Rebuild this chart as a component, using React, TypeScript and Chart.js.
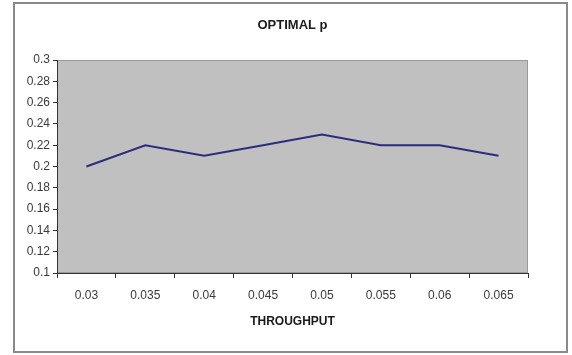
import React, { useEffect, useRef } from "react";
import { Chart, registerables } from "chart.js";

Chart.register(...registerables);

const throughput = ["0.03", "0.035", "0.04", "0.045", "0.05", "0.055", "0.06", "0.065"];
const optimalP = [0.2, 0.22, 0.21, 0.22, 0.23, 0.22, 0.22, 0.21];
const yTicks = [0.1, 0.12, 0.14, 0.16, 0.18, 0.2, 0.22, 0.24, 0.26, 0.28, 0.3];

const framePlugin = {
  id: "frame",
  beforeDraw(chart: any) {
    const { ctx, chartArea } = chart;
    ctx.save();
    ctx.fillStyle = "#ffffff";
    ctx.fillRect(0, 0, chart.width, chart.height);
    ctx.strokeStyle = "#8a8a8a";
    ctx.lineWidth = 2;
    ctx.strokeRect(14, 3, 553, 349);
    ctx.fillStyle = "#c0c0c0";
    ctx.fillRect(chartArea.left, chartArea.top, chartArea.right - chartArea.left, chartArea.bottom - chartArea.top);
    ctx.strokeStyle = "#9a9a9a";
    ctx.lineWidth = 1;
    ctx.strokeRect(chartArea.left + 0.5, chartArea.top + 0.5, chartArea.right - chartArea.left - 1, chartArea.bottom - chartArea.top - 1);
    ctx.restore();
  },
};

export default function App() {
  const ref = useRef<HTMLCanvasElement>(null);
  useEffect(() => {
    if (!ref.current) return;
    const chart = new Chart(ref.current, {
      type: "line",
      data: {
        labels: throughput,
        datasets: [
          {
            data: optimalP,
            borderColor: "#2c2c7c",
            borderWidth: 2,
            pointRadius: 0,
            tension: 0,
            fill: false,
          },
        ],
      },
      options: {
        animation: false,
        responsive: false,
        maintainAspectRatio: false,
        layout: { padding: { left: 14, right: 44, top: 0, bottom: 0 } },
        plugins: {
          legend: { display: false },
          tooltip: { enabled: false },
          title: {
            display: true,
            fullSize: false,
            text: "OPTIMAL p",
            color: "#1a1a1a",
            font: { family: "'Liberation Sans', Arial, sans-serif", size: 13, weight: "bold" },
            padding: { top: 18, bottom: 26.4 },
          },
        },
        scales: {
          x: {
            type: "category",
            offset: true,
            grid: {
              offset: true,
              drawOnChartArea: false,
              drawTicks: true,
              tickLength: 5,
              color: "#333333",
            },
            border: { display: true, color: "#333333", width: 1 },
            ticks: {
              color: "#3a3a3a",
              padding: 10,
              maxRotation: 0,
              autoSkip: false,
              font: { family: "'Liberation Sans', Arial, sans-serif", size: 12 },
            },
            title: {
              display: true,
              text: "THROUGHPUT",
              color: "#1a1a1a",
              font: { family: "'Liberation Sans', Arial, sans-serif", size: 12, weight: "bold" },
              padding: { top: 0, bottom: 25.8 },
            },
            afterFit(scale: any) {
              scale.height = 82;
            },
          },
          y: {
            min: 0.1,
            max: 0.3,
            afterBuildTicks(scale: any) {
              scale.ticks = yTicks.map((v) => ({ value: v }));
            },
            grid: {
              drawOnChartArea: false,
              drawTicks: true,
              tickLength: 4,
              color: "#333333",
            },
            border: { display: true, color: "#333333", width: 1 },
            ticks: {
              color: "#3a3a3a",
              padding: 3,
              font: { family: "'Liberation Sans', Arial, sans-serif", size: 12 },
              callback: (v: any) => String(+Number(v).toFixed(2)),
            },
            afterFit(scale: any) {
              scale.width = 43;
            },
          },
        },
      },
      plugins: [framePlugin],
    });
    return () => chart.destroy();
  }, []);
  return (
    <div style={{ position: "fixed", left: 0, top: 0, width: 572, height: 355, background: "#fff" }}>
      <canvas ref={ref} width={572} height={355} style={{ display: "block", width: 572, height: 355 }} />
    </div>
  );
}
